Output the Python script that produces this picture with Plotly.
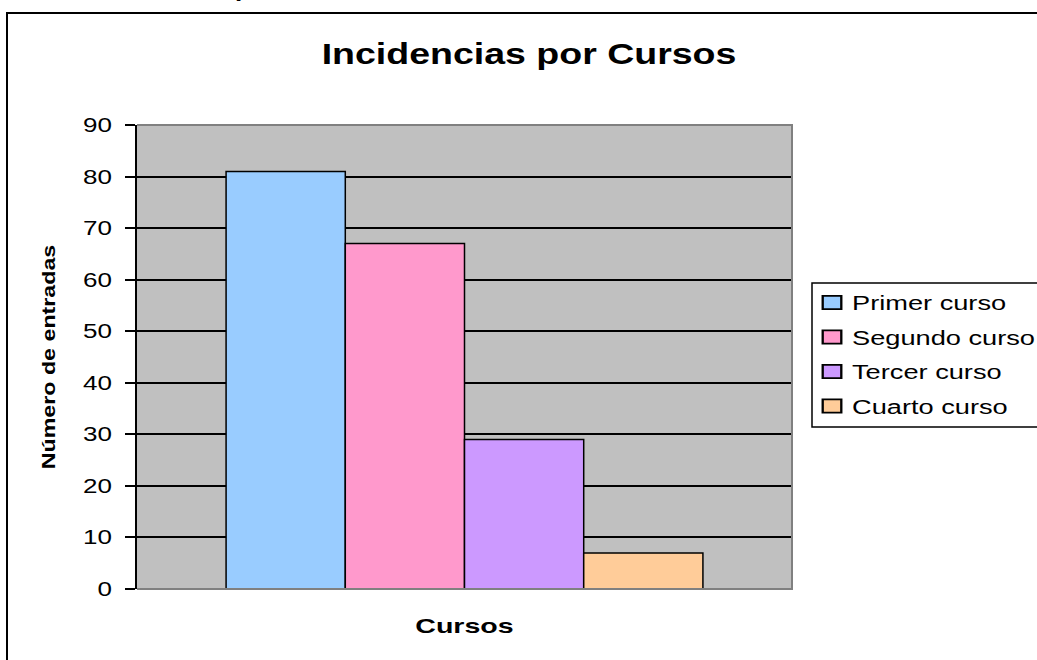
import plotly.graph_objects as go

# Datos: incidencias registradas por curso
cursos = ["Primer curso", "Segundo curso", "Tercer curso", "Cuarto curso"]
entradas = [81, 67, 29, 7]
colores = ["#99CCFF", "#FF99CC", "#CC99FF", "#FFCC99"]
y_ticks = [0, 10, 20, 30, 40, 50, 60, 70, 80, 90]

W, H = 1037, 660
L, R, T, B = 137, 792, 125, 589  # plot area in pixels


def px(x):
    return (x - L) / (R - L)


def py(y):
    return (B - y) / (B - T)


FONT = "Liberation Sans, Arial, sans-serif"

fig = go.Figure()
for nombre, valor, color in zip(cursos, entradas, colores):
    fig.add_trace(go.Bar(
        x=["Cursos"], y=[valor], name=nombre,
        legendgroup=nombre,
        marker=dict(color=color, line=dict(color="#000000", width=1.5)),
        hovertemplate=nombre + ": %{y}<extra></extra>",
    ))

fig.update_layout(
    width=W, height=H,
    margin=dict(l=L, r=W - R, t=T, b=H - B, autoexpand=False),
    paper_bgcolor="white",
    plot_bgcolor="#C0C0C0",
    barmode="group",
    bargap=0.272,
    bargroupgap=0,
    font=dict(family=FONT, size=20, color="black"),
    title=dict(
        text="<b>Incidencias por Cursos</b>",
        x=px(529), xref="paper", xanchor="center",
        y=1 - 53 / H, yanchor="middle",
        font=dict(family=FONT, size=30, color="black"),
    ),
    showlegend=True,
    legend=dict(
        x=px(812), xanchor="left",
        y=py(283), yanchor="top",
        bgcolor="rgba(0,0,0,0)",
        borderwidth=0,
        font=dict(family=FONT, size=20, color="black"),
        tracegroupgap=5.5,
        itemclick=False, itemdoubleclick=False,
    ),
    xaxis=dict(
        showticklabels=False, ticks="", showgrid=False,
        showline=False, zeroline=False,
        title=dict(text="<b>Cursos</b>", standoff=29,
                   font=dict(family=FONT, size=21, color="black")),
        automargin=False,
    ),
    yaxis=dict(
        range=[0, 90], tickvals=y_ticks,
        ticks="outside", ticklen=10, tickwidth=2, tickcolor="#000000",
        ticklabelstandoff=9,
        showgrid=True, gridcolor="#000000", gridwidth=1.5,
        showline=True, linecolor="#000000", linewidth=2,
        zeroline=False,
        tickfont=dict(family=FONT, size=20, color="black"),
        title=dict(text="<b>Número de entradas</b>", standoff=29,
                   font=dict(family=FONT, size=18, color="black")),
        automargin=False,
    ),
    shapes=[
        # grey frame on the top, right and bottom of the plot area
        dict(type="path", xref="paper", yref="paper",
             path="M 0 1 L 1 1 L 1 0 L 0 0",
             line=dict(color="#808080", width=2), layer="above"),
        # legend box, running past the right edge of the page
        dict(type="rect", xref="paper", yref="paper",
             x0=px(812), x1=px(W + 10), y0=py(427), y1=py(283),
             fillcolor="white", line=dict(color="#000000", width=1.5),
             layer="below"),
        # outer chart border
        dict(type="path", xref="paper", yref="paper",
             path=f"M {px(7)} {py(H + 5)} L {px(7)} {py(13)} L {px(W + 5)} {py(13)}",
             line=dict(color="#000000", width=2), layer="above"),
    ],
    annotations=[
        dict(text="<b>p</b>", xref="paper", yref="paper",
             x=px(243), y=py(4), xanchor="center", yanchor="bottom",
             showarrow=False, font=dict(family=FONT, size=26, color="#000000")),
    ],
)

# Wider text rendering: stretch each label horizontally along its baseline,
# widen the legend swatches, and let the legend entries run to the page edge.
stretch_js = """
(function () {
  var gd = document.getElementById('{plot_id}');
  var rules = [['.gtitle', 1.25], ['.legendtext', 1.36], ['.ytick text', 1.3],
               ['.ytitle', 1.29], ['.xtitle', 1.36]];
  function stretch() {
    rules.forEach(function (r) {
      gd.querySelectorAll(r[0]).forEach(function (el) {
        el.removeAttribute('textLength');
        el.removeAttribute('lengthAdjust');
        var w = el.getComputedTextLength();
        el.setAttribute('lengthAdjust', 'spacingAndGlyphs');
        el.setAttribute('textLength', (w * r[1]).toFixed(2));
      });
    });
    gd.querySelectorAll('.legendpoints path').forEach(function (p) {
      if (!p.hasAttribute('data-base-transform')) {
        p.setAttribute('data-base-transform', p.getAttribute('transform') || '');
      }
      p.setAttribute('transform', p.getAttribute('data-base-transform') + ' scale(1.55,1.1)');
    });
    gd.querySelectorAll('.legend .scrollbox, .legend').forEach(function (g) {
      g.removeAttribute('clip-path');
    });
  }
  stretch();
  if (gd.on) { gd.on('plotly_afterplot', stretch); }
})();
"""

fig.write_html("out.html", post_script=stretch_js)
